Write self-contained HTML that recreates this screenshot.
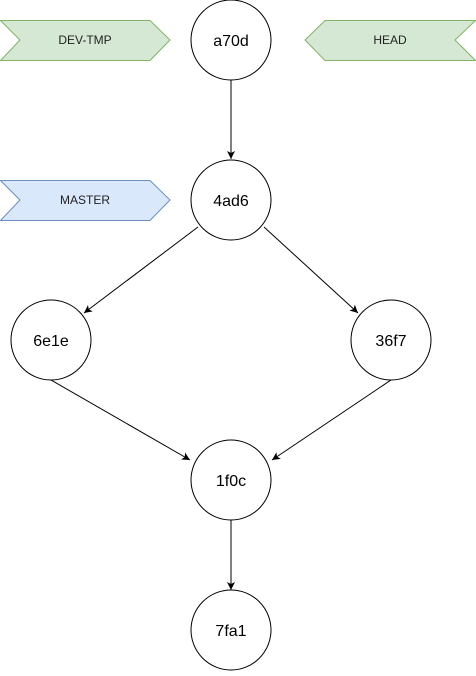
<!DOCTYPE html>
<html><head><style>body{margin:0;background:#fff}</style></head><body>
<svg width="476" height="671" xmlns="http://www.w3.org/2000/svg" font-family="Liberation Sans, Arial, sans-serif">
<defs><marker id="a" markerWidth="10" markerHeight="10" refX="8" refY="5" orient="auto" markerUnits="userSpaceOnUse"><path d="M0,1 L8,5 L0,9 L2,5 Z" fill="#000"/></marker></defs>
<g stroke="#82b366" fill="#d5e8d4">
<polygon points="0.5,20.5 150,20.5 170,40 150,60.5 0.5,60.5 20,40"/>
<polygon points="305,40 325,20.5 475.5,20.5 455,40 475.5,60.5 325,60.5"/>
</g>
<polygon points="0.5,180.5 150,180.5 170,200 150,220.5 0.5,220.5 20,200" stroke="#6c8ebf" fill="#dae8fc"/>
<g font-size="12" fill="#222" text-anchor="middle">
<text x="85" y="44">DEV-TMP</text>
<text x="390" y="44">HEAD</text>
<text x="85" y="204">MASTER</text>
</g>
<g stroke="#000" fill="none">
<line x1="231" y1="80" x2="231" y2="159" marker-end="url(#a)"/>
<line x1="198" y1="227" x2="84" y2="313" marker-end="url(#a)"/>
<line x1="264" y1="227" x2="358" y2="313" marker-end="url(#a)"/>
<line x1="51" y1="380" x2="190" y2="460" marker-end="url(#a)"/>
<line x1="391" y1="380" x2="272" y2="460" marker-end="url(#a)"/>
<line x1="231" y1="520" x2="231" y2="590" marker-end="url(#a)"/>
</g>
<g stroke="#000" fill="#fff">
<circle cx="231" cy="40" r="40"/>
<circle cx="231" cy="200" r="40"/>
<circle cx="51" cy="340" r="40"/>
<circle cx="391" cy="340" r="40"/>
<circle cx="231" cy="480" r="40"/>
<circle cx="231" cy="630" r="40"/>
</g>
<g font-size="16" fill="#000" text-anchor="middle">
<text x="231" y="46">a70d</text>
<text x="231" y="206">4ad6</text>
<text x="51" y="346">6e1e</text>
<text x="391" y="346">36f7</text>
<text x="231" y="486">1f0c</text>
<text x="231" y="636">7fa1</text>
</g>
</svg>
</body></html>
